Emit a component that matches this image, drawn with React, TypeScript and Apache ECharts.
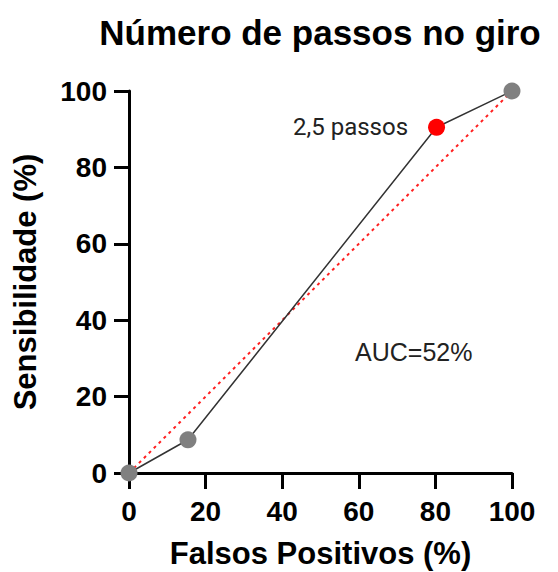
import React, { useEffect, useRef } from "react";
import * as echarts from "echarts";

const falsePositive = [0, 15.4, 80.3, 100];
const sensitivity = [0, 8.7, 90.5, 100];
const highlightIndex = 2;
const highlightLabel = "2,5 passos";
const chanceLine = [[0, 0], [100, 100]];
const titleText = "Número de passos no giro";
const xName = "Falsos Positivos (%)";
const yName = "Sensibilidade (%)";
const aucText = "AUC=52%";

const FONT = "'Liberation Sans', Arial, sans-serif";

export default function App() {
  const ref = useRef<HTMLDivElement>(null);
  useEffect(() => {
    if (!ref.current) return;
    const chart = echarts.init(ref.current, undefined, { renderer: "svg" });
    const pts = falsePositive.map((x, i) => ({
      value: [x, sensitivity[i]],
      itemStyle: { color: i === highlightIndex ? "#ff0000" : "#808080", opacity: 1 },
      label:
        i === highlightIndex
          ? {
              show: true,
              formatter: highlightLabel,
              position: "left",
              distance: 20,
              fontSize: 24,
              color: "#222",
              fontFamily: "Roboto, " + FONT,
            }
          : { show: false },
    }));
    chart.setOption({
      animation: false,
      title: {
        text: titleText,
        left: 315,
        textAlign: "center",
        top: 10,
        textStyle: { fontSize: 35, fontWeight: "bold", color: "#000", fontFamily: FONT },
      },
      grid: { left: 129, right: 46, top: 91, bottom: 99, containLabel: false, outerBoundsMode: "none" },
      xAxis: {
        type: "value",
        min: 0,
        max: 100,
        interval: 20,
        name: xName,
        nameLocation: "middle",
        nameGap: 65,
        nameTextStyle: { fontSize: 31, fontWeight: "bold", color: "#000", fontFamily: FONT },
        axisLine: { show: true, onZero: false, lineStyle: { color: "#000", width: 3 } },
        axisTick: { show: true, length: 16, lineStyle: { color: "#000", width: 3 } },
        axisLabel: { fontSize: 28, fontWeight: "bold", color: "#000", margin: 24, fontFamily: FONT },
        splitLine: { show: false },
      },
      yAxis: {
        type: "value",
        min: 0,
        max: 100,
        interval: 20,
        name: yName,
        nameLocation: "middle",
        nameGap: 88,
        nameTextStyle: { fontSize: 31, fontWeight: "bold", color: "#000", fontFamily: FONT },
        axisLine: { show: true, onZero: false, lineStyle: { color: "#000", width: 3 } },
        axisTick: { show: true, length: 15, lineStyle: { color: "#000", width: 3 } },
        axisLabel: { fontSize: 28, fontWeight: "bold", color: "#000", margin: 22, fontFamily: FONT },
        splitLine: { show: false },
      },
      graphic: [
        {
          type: "text",
          left: 355,
          top: 339,
          style: { text: aucText, fontSize: 25, fill: "#222", fontFamily: FONT },
        },
      ],
      series: [
        {
          type: "line",
          data: chanceLine,
          symbol: "none",
          lineStyle: { color: "#ff2020", width: 2, type: [3, 4] },
          silent: true,
          z: 1,
        },
        {
          type: "line",
          data: pts,
          symbol: "circle",
          symbolSize: 17,
          lineStyle: { color: "#333", width: 1.5 },
          z: 2,
        },
      ],
    });
    return () => chart.dispose();
  }, []);
  return (
    <div
      ref={ref}
      style={{ position: "fixed", left: 0, top: 0, width: 558, height: 572, background: "#fff" }}
    />
  );
}
